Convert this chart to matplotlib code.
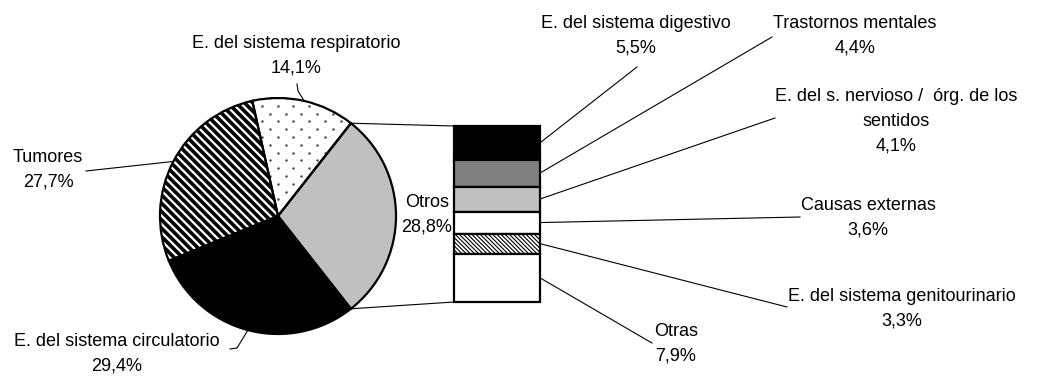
import matplotlib
matplotlib.use('Agg')
import matplotlib.pyplot as plt
import numpy as np

plt.rcParams['font.family'] = ['Liberation Sans', 'DejaVu Sans']

# ---------------- data ----------------
pie_labels = ['Otros', 'E. del sistema circulatorio', 'Tumores', 'E. del sistema respiratorio']
pie_values = [28.8, 29.4, 27.7, 14.1]

bar_labels = ['E. del sistema digestivo', 'Trastornos mentales',
              'E. del s. nervioso /  órg. de los\nsentidos', 'Causas externas',
              'E. del sistema genitourinario', 'Otras']
bar_values = [5.5, 4.4, 4.1, 3.6, 3.3, 7.9]

# ---------------- styles ----------------
pie_colors = ['#c0c0c0', '#000000', 'white', 'white']
pie_hatches = ['', '', '\\\\\\\\', '']
pie_hatch_colors = ['#c0c0c0', '#000000', '#000000', '#404040']
pie_hatch_lw = [1.0, 1.0, 2.6, 1.0]
dotted_slice = 3  # index of slice with dotted texture

bar_colors = ['#000000', '#808080', '#c0c0c0', 'white', 'white', 'white']
bar_hatches = ['', '', '', '', '\\' * 8, '']

# ---------------- layout (pixel coords, y down) ----------------
W, H = 1037, 376
cx, cy, R = 278, 216, 118
bx0, bx1, by0, by1 = 454, 540, 126, 302

def fmt(v):
    return f"{v:.1f}".replace('.', ',') + '%'

FS = 13
LS = 1.58

fig = plt.figure(figsize=(W / 100, H / 100), dpi=100)
ax = fig.add_axes([0, 0, 1, 1])

def P(x, y):
    return x, H - y

total = sum(pie_values)
start = pie_values[0] / total * 180.0

wedges, _ = ax.pie(pie_values, colors=pie_colors, startangle=start, counterclock=False,
                   center=P(cx, cy), radius=R, wedgeprops=dict(linewidth=0))
for w, h, hc, hl in zip(wedges, pie_hatches, pie_hatch_colors, pie_hatch_lw):
    w.set_edgecolor(hc)
    w.set_linewidth(0)
    if h:
        w.set_hatch(h)
        if hasattr(w, 'set_hatch_linewidth'):
            w.set_hatch_linewidth(hl)

# dotted texture (staggered grid) clipped to the respiratory slice
dx, dy = 15.7, 7.8
gy = np.arange(cy - R, cy + R + dy, dy)
dxs, dys = [], []
for k, yy in enumerate(gy):
    off = 0 if k % 2 == 0 else dx / 2
    gx = np.arange(cx - R + off, cx + R + dx, dx)
    dxs.extend(gx)
    dys.extend([H - yy] * len(gx))
sc = ax.scatter(dxs, dys, s=3.0, color='#404040', linewidths=0, zorder=wedges[dotted_slice].get_zorder() + 0.1)
sc.set_clip_path(wedges[dotted_slice])

wedges2, _ = ax.pie(pie_values, startangle=start, counterclock=False,
                    center=P(cx, cy), radius=R,
                    wedgeprops=dict(fill=False, edgecolor='black', linewidth=1.6))
for w in wedges2:
    w.set_zorder(5)

# angles of slices
angs = []
a = start
for v in pie_values:
    span = v / total * 360.0
    angs.append((a, a - span))
    a -= span

def pie_pt(theta):
    t = np.deg2rad(theta)
    return cx + R * np.cos(t), cy - R * np.sin(t)

# bar
bar_total = sum(bar_values)
scale = (by1 - by0) / bar_total
bw = bx1 - bx0
cum = 0.0
bar_mid = []
for v, c, h in zip(bar_values, bar_colors, bar_hatches):
    top = by0 + cum * scale
    cum += v
    bot = by0 + cum * scale
    b = ax.bar((bx0 + bx1) / 2, v * scale, width=bw, bottom=H - bot, color=c,
               edgecolor='black', linewidth=1.6, hatch=h if h else None)
    if h and hasattr(b[0], 'set_hatch_linewidth'):
        b[0].set_hatch_linewidth(0.8)
    bar_mid.append((top + bot) / 2)

# connector lines between pie and bar
p1 = pie_pt(angs[0][0])
p2 = pie_pt(angs[0][1])
ax.plot([p1[0], bx0], [H - p1[1], H - by0], color='black', lw=0.8)
ax.plot([p2[0], bx0], [H - p2[1], H - by1], color='black', lw=0.8)

# pie labels
pie_text_pos = [(427, 215), (117, 354), (48, 170), (296, 55.5)]
pie_leaders = [None,
               [(230, 349), (237, 348)],
               [(86, 171)],
               [(297, 84), (298, 91)]]
for i, (lab, v) in enumerate(zip(pie_labels, pie_values)):
    tx, ty = pie_text_pos[i]
    ax.text(tx, H - ty, lab + '\n' + fmt(v), ha='center', va='center',
            fontsize=FS, linespacing=LS, multialignment='center')
    if pie_leaders[i] is not None:
        mid = (angs[i][0] + angs[i][1]) / 2
        pts = pie_leaders[i] + [pie_pt(mid)]
        xs = [p[0] for p in pts]
        ys = [H - p[1] for p in pts]
        ax.plot(xs, ys, color='black', lw=0.8)

# bar labels
bar_text_pos = [(636, 35.5), (855, 35.5), (896, 121), (868, 217.5), (902, 308.5), (676, 343.5)]
bar_leader_start = [(637, 67), (772, 37), (775, 118), (800, 217), (787, 307), (652, 343)]
for i, (lab, v) in enumerate(zip(bar_labels, bar_values)):
    tx, ty = bar_text_pos[i]
    ax.text(tx, H - ty, lab + '\n' + fmt(v), ha='center', va='center',
            fontsize=FS, linespacing=LS, multialignment='center')
    sx, sy = bar_leader_start[i]
    ax.plot([sx, bx1], [H - sy, H - bar_mid[i]], color='black', lw=0.8)

ax.set_xlim(0, W)
ax.set_ylim(0, H)
ax.set_aspect('auto')
ax.axis('off')
fig.savefig('out.png', dpi=100, facecolor='white')
